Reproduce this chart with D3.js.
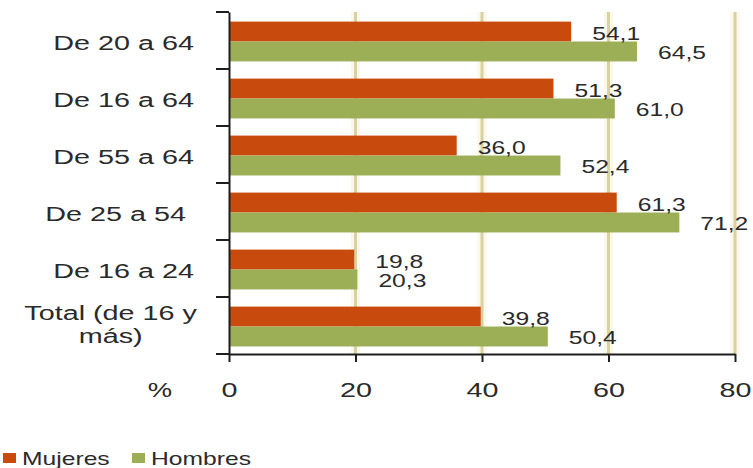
<!DOCTYPE html>
<html>
<head>
<meta charset="utf-8">
<script src="https://cdn.jsdelivr.net/npm/d3@7"></script>
<style>
  body { margin: 0; background: #fff; }
  svg text { font-family: "Liberation Sans", Arial, sans-serif; fill: #2a2a2a; }
</style>
</head>
<body>
<div id="chart"></div>
<script>
// age groups, top to bottom (label lines)
const groups = [
  ["De 20 a 64"],
  ["De 16 a 64"],
  ["De 55 a 64"],
  ["De 25 a 54\u00a0"],
  ["De 16 a 24"],
  ["Total (de 16 y", "más)"]
];
const series = ["Mujeres", "Hombres"];
const mujeres = [54.1, 51.3, 36.0, 61.3, 19.8, 39.8];
const hombres = [64.5, 61.0, 52.4, 71.2, 20.3, 50.4];
const xTicks = [0, 20, 40, 60, 80];

const colors = { Mujeres: "#c84a0c", Hombres: "#9cae56" };
const stretch = 1.37; // text is drawn slightly widened

const W = 753, H = 468;
const margin = { top: 12, left: 229, right: 18, bottom: 114 };
const width = W - margin.left - margin.right;
const height = H - margin.top - margin.bottom;

const svg = d3.select("#chart").append("svg")
  .attr("width", W)
  .attr("height", H);

const g = svg.append("g")
  .attr("transform", `translate(${margin.left},${margin.top})`);

const keys = groups.map((d, i) => "g" + i);
const rows = keys.map((k, i) => ({ key: k, lines: groups[i], Mujeres: mujeres[i], Hombres: hombres[i] }));

const x = d3.scaleLinear().domain([0, 80]).range([0, width]);
const y = d3.scaleBand().domain(keys).range([0, height]);
const ySub = d3.scaleBand().domain(series).range([0, y.bandwidth()])
  .paddingInner(0).paddingOuter(0.43).align(0.56);

const fmt = d3.formatLocale({ decimal: ",", thousands: ".", grouping: [3], currency: ["", "€"] }).format(".1f");

// vertical gridlines
const grid = g.append("g");
grid.selectAll("line.halo")
  .data(xTicks.slice(1))
  .join("line")
    .attr("class", "halo")
    .attr("x1", d => x(d)).attr("x2", d => x(d))
    .attr("y1", 0).attr("y2", height)
    .attr("stroke", "#fbf8e8")
    .attr("stroke-width", 9);
grid.selectAll("line.grid")
  .data(xTicks.slice(1))
  .join("line")
    .attr("class", "grid")
    .attr("x1", d => x(d)).attr("x2", d => x(d))
    .attr("y1", 0).attr("y2", height)
    .attr("stroke", "#d8d1a4")
    .attr("stroke-width", 3);

// bars
const rowG = g.selectAll("g.row")
  .data(rows)
  .join("g")
    .attr("class", "row")
    .attr("transform", d => `translate(0,${y(d.key)})`);

rowG.selectAll("rect")
  .data(d => series.map(s => ({ s, v: d[s] })))
  .join("rect")
    .attr("x", 1)
    .attr("y", d => ySub(d.s))
    .attr("width", d => x(d.v) - 1)
    .attr("height", ySub.bandwidth())
    .attr("fill", d => colors[d.s]);

rowG.selectAll("text.val")
  .data(d => series.map(s => ({ s, v: d[s] })))
  .join("text")
    .attr("class", "val")
    .attr("transform", d => `translate(${x(d.v) + 21},${ySub(d.s) + ySub.bandwidth() / 2 + 8}) scale(${stretch},1)`)
    .style("font-size", "18px")
    .text(d => fmt(d.v));

// x axis
const xAxis = d3.axisBottom(x).tickValues(xTicks).tickSize(8).tickSizeOuter(0).tickFormat(d3.format("d"));
const xg = g.append("g")
  .attr("transform", `translate(0,${height})`)
  .call(xAxis);
xg.select(".domain").attr("stroke", "#1e1e1e").attr("stroke-width", 2);
xg.selectAll(".tick line").attr("stroke", "#1e1e1e").attr("stroke-width", 2);
xg.selectAll(".tick text")
  .attr("y", 0).attr("dy", 0)
  .attr("transform", `translate(0,43) scale(${stretch},1)`)
  .style("font-size", "21px")
  .style("font-family", "\"Liberation Sans\", Arial, sans-serif")
  .attr("fill", "#2a2a2a");

g.append("text")
  .attr("transform", `translate(${-69},${height + 43}) scale(${stretch},1)`)
  .attr("text-anchor", "middle")
  .style("font-size", "20px")
  .text("%");

// y axis: line plus ticks between categories
const yg = g.append("g").call(d3.axisLeft(y).tickSize(0).tickFormat(""));
yg.select(".domain").attr("stroke", "#1e1e1e").attr("stroke-width", 2);
const edges = keys.map(k => y(k)).concat([y(keys[keys.length - 1]) + y.bandwidth()]);
yg.selectAll("line.edge")
  .data(edges)
  .join("line")
    .attr("class", "edge")
    .attr("x1", -13).attr("x2", 0)
    .attr("y1", d => d).attr("y2", d => d)
    .attr("stroke", "#1e1e1e")
    .attr("stroke-width", 2);

// category labels
const labelRight = -35;
rows.forEach(r => {
  const cy = y(r.key) + y.bandwidth() / 2;
  if (r.lines.length === 1) {
    g.append("text")
      .attr("transform", `translate(${labelRight},${cy + 9.5}) scale(${stretch},1)`)
      .attr("text-anchor", "end")
      .style("font-size", "21px")
      .text(r.lines[0]);
  } else {
    const probe = g.append("text").style("font-size", "21px").text(r.lines[0]);
    const w = probe.node().getComputedTextLength() * stretch;
    probe.remove();
    const cx = labelRight + 3 - w / 2;
    r.lines.forEach((line, j) => {
      g.append("text")
        .attr("transform", `translate(${cx},${cy - 5.5 + j * 23}) scale(${stretch},1)`)
        .attr("text-anchor", "middle")
        .style("font-size", "21px")
        .text(line);
    });
  }
});

// legend
const legendX = [3, 132];
const legend = svg.append("g")
  .selectAll("g")
  .data(series)
  .join("g")
    .attr("transform", (d, i) => `translate(${legendX[i]},453)`);
legend.append("rect")
  .attr("width", 13).attr("height", 10)
  .attr("fill", d => colors[d]);
legend.append("text")
  .attr("transform", `translate(19,12) scale(${stretch},1)`)
  .style("font-size", "18px")
  .text(d => d);
</script>
</body>
</html>
